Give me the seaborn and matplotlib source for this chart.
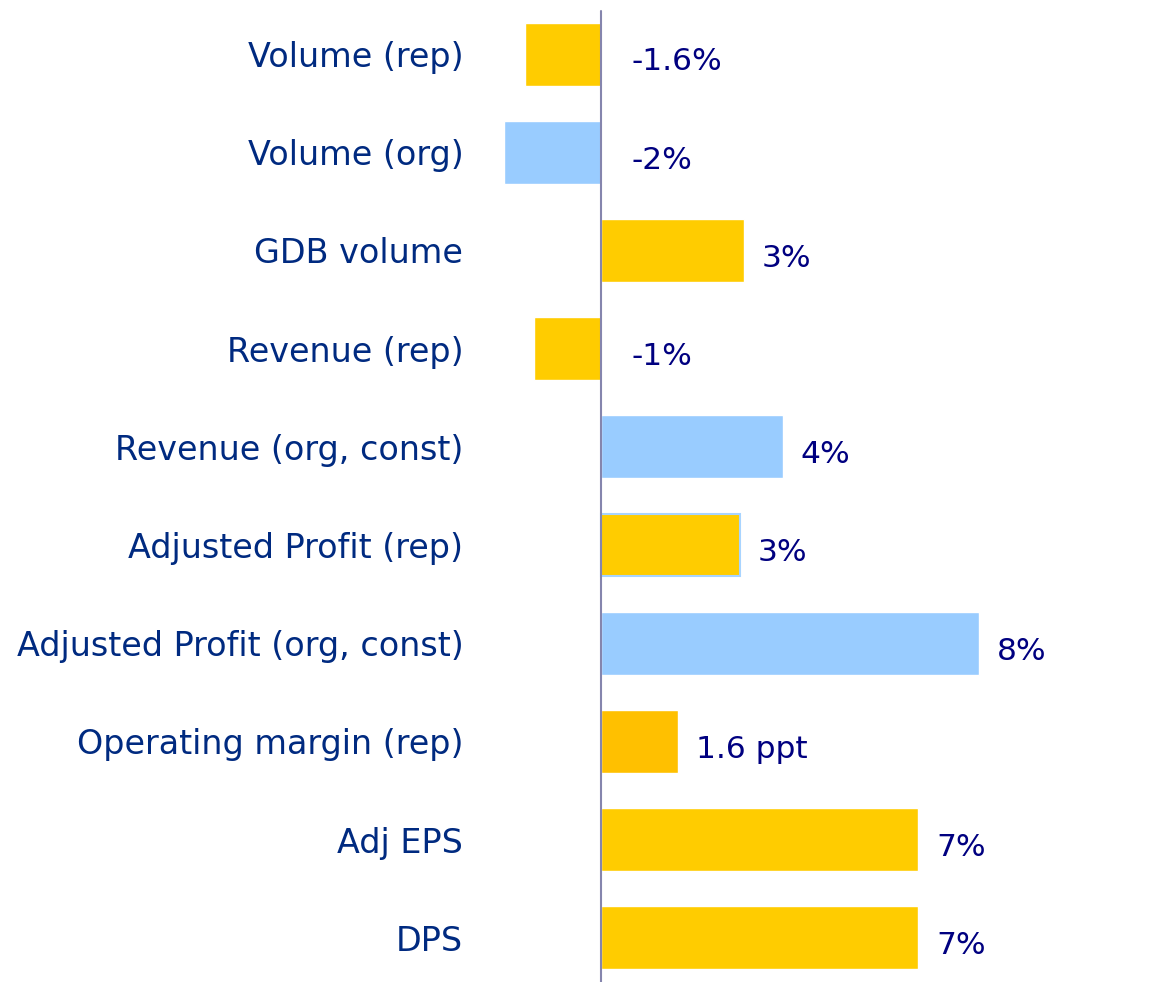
import numpy as np
import pandas as pd
import matplotlib
matplotlib.use('Agg')
import matplotlib.pyplot as plt
import seaborn as sns

sns.set_theme(style="white")
plt.rcParams['font.family'] = ['DejaVu Sans']

# Data
metrics = ["Volume (rep)", "Volume (org)", "GDB volume", "Revenue (rep)",
           "Revenue (org, const)", "Adjusted Profit (rep)",
           "Adjusted Profit (org, const)", "Operating margin (rep)",
           "Adj EPS", "DPS"]
growth = [-1.62, -2.05, 3.05, -1.42, 3.87, 2.95, 8.05, 1.65, 6.75, 6.75]
value_labels = ["-1.6%", "-2%", "3%", "-1%", "4%", "3%", "8%", "1.6 ppt", "7%", "7%"]
bar_colors = ["#FFCC00", "#99CCFF", "#FFCC00", "#FFCC00", "#99CCFF",
              "#FFCC00", "#99CCFF", "#FFC000", "#FFCC00", "#FFCC00"]

df = pd.DataFrame({"metric": metrics, "growth": growth})

fig = plt.figure(figsize=(11.53, 9.82), dpi=100)
ax = fig.add_axes([480 / 1153, 0, 670 / 1153, 977 / 982])

sns.barplot(data=df, x="growth", y="metric", hue="metric",
            palette=bar_colors, orient="h", width=0.64,
            legend=False, ax=ax, saturation=1)

# light blue outline on the Adjusted Profit (rep) bar
ax.patches[5].set_edgecolor("#A8D4FF")
ax.patches[5].set_linewidth(1.5)

ax.set_xlim(-2.57, 11.68)
ax.set_ylim(9.45, -0.5)
ax.axvline(0, color="#8585AD", lw=1.5, ymin=0, ymax=0.994)

for i, (v, lab) in enumerate(zip(growth, value_labels)):
    x = 0.66 if v < 0 else v + 0.38
    ax.text(x, i + 0.08, lab, va="center", ha="left",
            fontsize=22.5, color="#000080")

ax.set_xlabel("")
ax.set_ylabel("")
ax.set_xticks([])
ax.tick_params(axis="y", length=0, pad=12, labelsize=24, labelcolor="#002A80")
for s in ax.spines.values():
    s.set_visible(False)

fig.savefig("out.png", dpi=100)
